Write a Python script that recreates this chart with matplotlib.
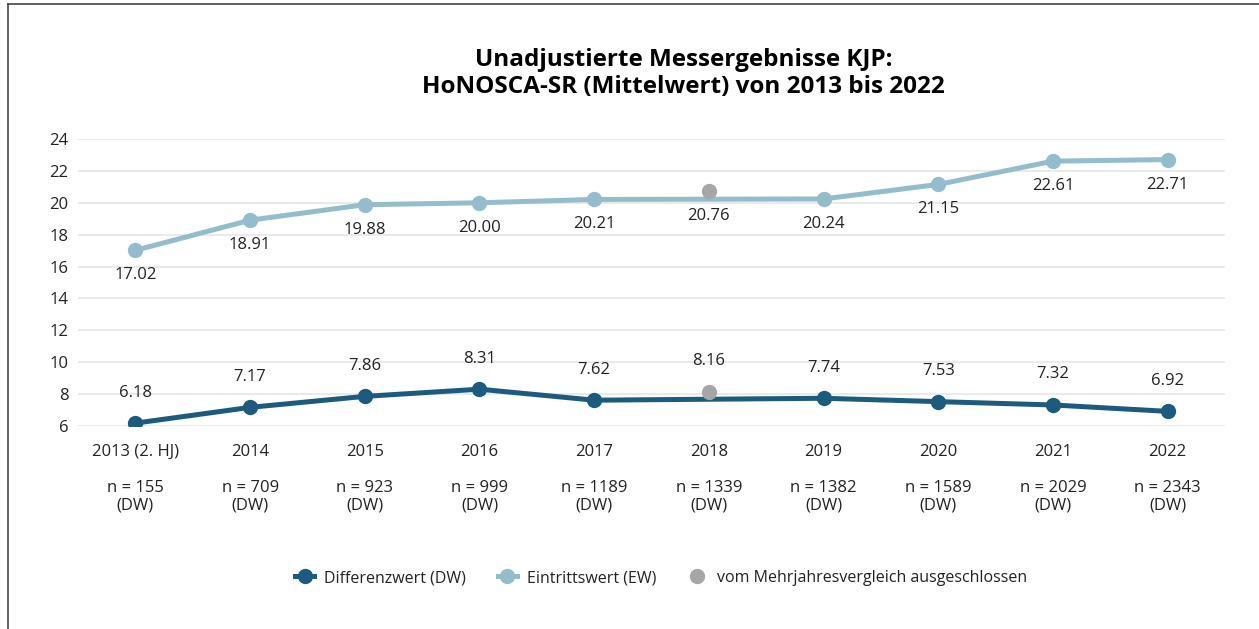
import matplotlib.pyplot as plt
from matplotlib.lines import Line2D
import numpy as np

plt.rcParams['font.family'] = ['Open Sans', 'DejaVu Sans']

years = ["2013 (2. HJ)", "2014", "2015", "2016", "2017", "2018", "2019", "2020", "2021", "2022"]
n_dw = [155, 709, 923, 999, 1189, 1339, 1382, 1589, 2029, 2343]
ew = [17.02, 18.91, 19.88, 20.00, 20.21, 20.76, 20.24, 21.15, 22.61, 22.71]
dw = [6.18, 7.17, 7.86, 8.31, 7.62, 8.16, 7.74, 7.53, 7.32, 6.92]
excluded = ["2018"]

c_dw = "#1c5b7e"
c_ew = "#93bccd"
c_ex = "#a6a6a6"
txt = "#222222"

fig = plt.figure(figsize=(12.59, 6.29), dpi=100)
ax = fig.add_axes([0.062, 0.3227, 0.911, 0.4563])

x = np.arange(len(years))
keep = np.array([y not in excluded for y in years])
ex = ~keep

# lines skip the excluded year
ax.plot(x[keep], np.array(ew)[keep], color=c_ew, lw=3.6, marker="o", ms=10, zorder=3,
        solid_capstyle="round")
ax.plot(x[keep], np.array(dw)[keep], color=c_dw, lw=3.6, marker="o", ms=10, zorder=3,
        solid_capstyle="round")
ax.plot(x[ex], np.array(ew)[ex], ls="none", marker="o", ms=10, color=c_ex, zorder=4)
ax.plot(x[ex], np.array(dw)[ex], ls="none", marker="o", ms=10, color=c_ex, zorder=4)

for i in range(len(years)):
    ax.annotate(f"{ew[i]:.2f}", (x[i], ew[i]), xytext=(0, -18), textcoords="offset points",
                ha="center", va="center", fontsize=12, color=txt)
    ax.annotate(f"{dw[i]:.2f}", (x[i], dw[i]), xytext=(0, 22), textcoords="offset points",
                ha="center", va="center", fontsize=12, color=txt)

ax.set_xlim(-0.5, len(years) - 0.5)
ax.set_ylim(6, 24)
ax.set_yticks(np.arange(6, 25, 2))
ax.set_xticks(x)
ax.set_xticklabels([f"{y}\n\nn = {n}\n(DW)" for y, n in zip(years, n_dw)],
                   fontsize=12, color=txt, linespacing=1.16, va="top")
ax.tick_params(axis="y", labelsize=12, labelcolor=txt, length=0, pad=7)
ax.tick_params(axis="x", length=0, pad=13)
ax.grid(axis="y", color="#e6e6e6", lw=1.2)
ax.set_axisbelow(True)
for s in ax.spines.values():
    s.set_visible(False)

fig.text(0.543, 0.883, "Unadjustierte Messergebnisse KJP:\nHoNOSCA-SR (Mittelwert) von 2013 bis 2022",
         ha="center", va="center", fontsize=17.5, fontweight="bold", color="black", linespacing=1.2)

handles = [
    Line2D([], [], color=c_dw, lw=3.6, marker="o", ms=10),
    Line2D([], [], color=c_ew, lw=3.6, marker="o", ms=10),
    Line2D([], [], color=c_ex, ls="none", marker="o", ms=10),
]
fig.legend(handles, ["Differenzwert (DW)", "Eintrittswert (EW)", "vom Mehrjahresvergleich ausgeschlossen"],
           loc="center", bbox_to_anchor=(0.525, 0.081), ncol=3, frameon=False, fontsize=11.5,
           handlelength=1.2, columnspacing=2.0, handletextpad=0.6, labelcolor=txt)

# frame lines at top and left
fig.add_artist(Line2D([0.0065, 1.0], [0.993, 0.993], color="#444444", lw=1.2, transform=fig.transFigure))
fig.add_artist(Line2D([0.0065, 0.0065], [0.0, 0.993], color="#444444", lw=1.2, transform=fig.transFigure))

fig.savefig("out.png", dpi=100)
